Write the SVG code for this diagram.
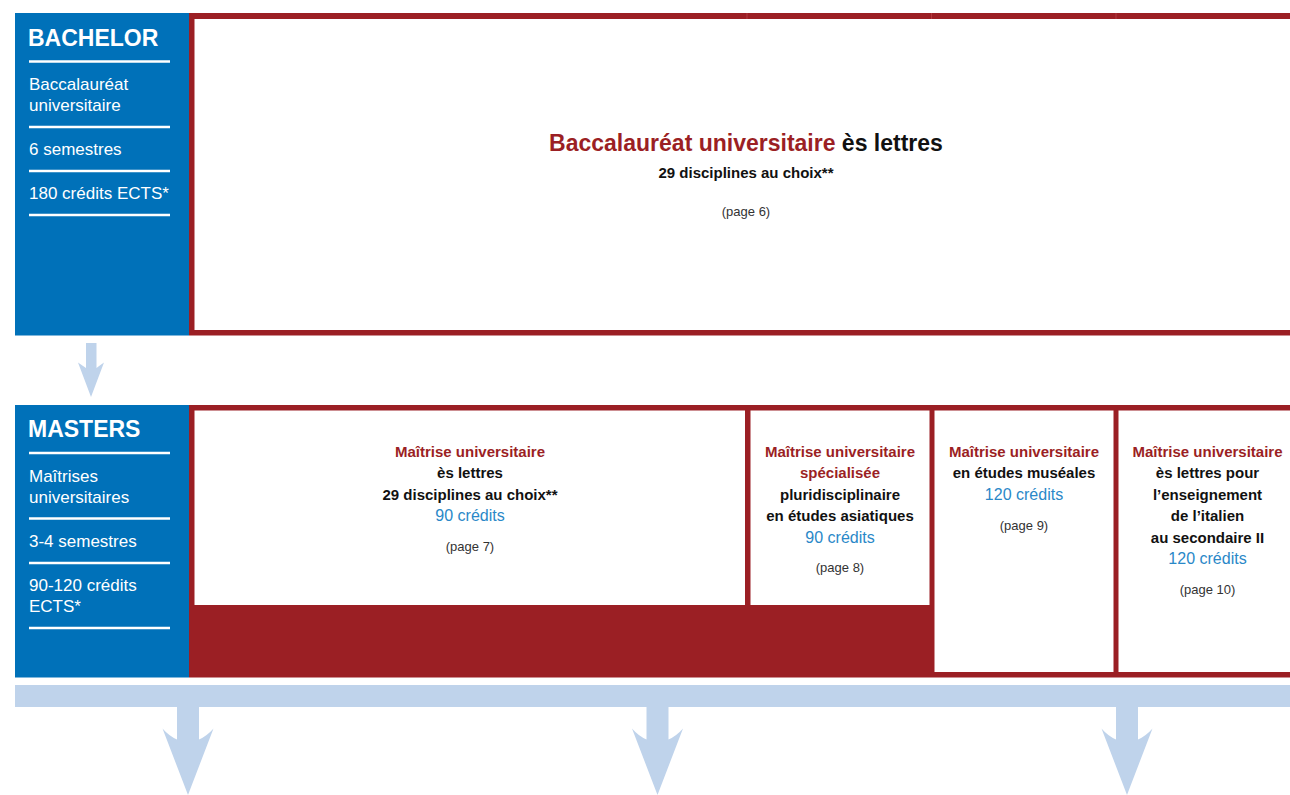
<svg xmlns="http://www.w3.org/2000/svg" width="1290" height="795" viewBox="0 0 1290 795">
<style>
text{font-family:"Liberation Sans",Arial,sans-serif}
.side{fill:#0071b9}
.red{fill:#9b1f24}
.white{fill:#ffffff}
.sep{stroke:#ffffff;stroke-width:2.6}
.sh{fill:#ffffff;font-weight:bold;font-size:23px}
.st{fill:#ffffff;font-size:17px}
.bt{font-weight:bold;font-size:15px;fill:#111111;text-anchor:middle}
.rt{fill:#9b1f24}
.cr{font-size:16px;fill:#2a88c8;text-anchor:middle}
.pg{font-size:13px;fill:#333333;text-anchor:middle}
.arrow{fill:#bfd3eb}
.tick{stroke:#b2393e;stroke-width:1}
</style>

<g id="bachelor-sidebar">
<rect class="side" x="15" y="13" width="174" height="322.5"/>
<text class="sh" x="28" y="46">BACHELOR</text>
<line class="sep" x1="29" y1="61.5" x2="170" y2="61.5"/>
<text class="st" x="29" y="90">Baccalauréat</text>
<text class="st" x="29" y="111">universitaire</text>
<line class="sep" x1="29" y1="127" x2="170" y2="127"/>
<text class="st" x="29" y="155">6 semestres</text>
<line class="sep" x1="29" y1="171" x2="170" y2="171"/>
<text class="st" x="29" y="199">180 crédits ECTS*</text>
<line class="sep" x1="29" y1="215" x2="170" y2="215"/>
</g>

<g id="bachelor-box">
<rect class="red" x="189" y="13" width="1110" height="322.5"/>
<rect class="white" x="194.5" y="19" width="1100" height="311"/>
<line class="tick" x1="747" y1="13" x2="747" y2="19"/>
<line class="tick" x1="931.5" y1="13" x2="931.5" y2="19"/>
<line class="tick" x1="1116" y1="13" x2="1116" y2="19"/>
<text x="746" y="151" text-anchor="middle" font-weight="bold" font-size="23" fill="#111111"><tspan class="rt">Baccalauréat universitaire</tspan> ès lettres</text>
<text class="bt" x="746" y="178" font-size="14.5">29 disciplines au choix**</text>
<text class="pg" x="746" y="216">(page 6)</text>
</g>

<g id="masters-sidebar">
<rect class="side" x="15" y="405" width="174" height="272.5"/>
<text class="sh" x="28" y="437">MASTERS</text>
<line class="sep" x1="29" y1="453" x2="170" y2="453"/>
<text class="st" x="29" y="482">Maîtrises</text>
<text class="st" x="29" y="503">universitaires</text>
<line class="sep" x1="29" y1="518.5" x2="170" y2="518.5"/>
<text class="st" x="29" y="547">3-4 semestres</text>
<line class="sep" x1="29" y1="563" x2="170" y2="563"/>
<text class="st" x="29" y="591">90-120 crédits</text>
<text class="st" x="29" y="612">ECTS*</text>
<line class="sep" x1="29" y1="628" x2="170" y2="628"/>
</g>

<g id="masters-frame">
<rect class="red" x="189" y="405" width="1110" height="272.5"/>
</g>

<g id="master-lettres">
<rect class="white" x="194.5" y="410.5" width="550.5" height="194.5"/>
<text class="bt" x="470" y="457"><tspan class="rt">Maîtrise universitaire</tspan></text>
<text class="bt" x="470" y="478">ès lettres</text>
<text class="bt" x="470" y="499.5">29 disciplines au choix**</text>
<text class="cr" x="470" y="521">90 crédits</text>
<text class="pg" x="470" y="551">(page 7)</text>
</g>

<g id="master-asiatiques">
<rect class="white" x="750.5" y="410.5" width="179" height="194.5"/>
<text class="bt" x="840" y="457"><tspan class="rt">Maîtrise universitaire</tspan></text>
<text class="bt" x="840" y="478"><tspan class="rt">spécialisée</tspan></text>
<text class="bt" x="840" y="500">pluridisciplinaire</text>
<text class="bt" x="840" y="521">en études asiatiques</text>
<text class="cr" x="840" y="542.5">90 crédits</text>
<text class="pg" x="840" y="572">(page 8)</text>
</g>

<g id="master-museales">
<rect class="white" x="934.5" y="410.5" width="179" height="261.5"/>
<text class="bt" x="1024" y="457"><tspan class="rt">Maîtrise universitaire</tspan></text>
<text class="bt" x="1024" y="478">en études muséales</text>
<text class="cr" x="1024" y="500">120 crédits</text>
<text class="pg" x="1024" y="530">(page 9)</text>
</g>

<g id="master-italien">
<rect class="white" x="1118.5" y="410.5" width="180" height="261.5"/>
<text class="bt" x="1207.5" y="457"><tspan class="rt">Maîtrise universitaire</tspan></text>
<text class="bt" x="1207.5" y="478">ès lettres pour</text>
<text class="bt" x="1207.5" y="500">l’enseignement</text>
<text class="bt" x="1207.5" y="521">de l’italien</text>
<text class="bt" x="1207.5" y="543">au secondaire II</text>
<text class="cr" x="1207.5" y="564">120 crédits</text>
<text class="pg" x="1207.5" y="594">(page 10)</text>
</g>

<g id="connectors">
<path class="arrow" d="M86,343 H96.5 V368 Q99,366 104,362.5 L91,397 L78,362.5 Q83,366 86,368 Z"/>
<rect class="arrow" x="15" y="685" width="1280" height="22"/>
<path class="arrow" d="M177,706 H199 V739.5 Q207,736 213.5,728.5 L188,795 L162.5,728.5 Q169,736 177,739.5 Z"/>
<path class="arrow" d="M646.5,706 H668.5 V739.5 Q676.5,736 683,728.5 L657.5,795 L632,728.5 Q638.5,736 646.5,739.5 Z"/>
<path class="arrow" d="M1116,706 H1138 V739.5 Q1146,736 1152.5,728.5 L1127,795 L1101.5,728.5 Q1108,736 1116,739.5 Z"/>
</g>
</svg>
